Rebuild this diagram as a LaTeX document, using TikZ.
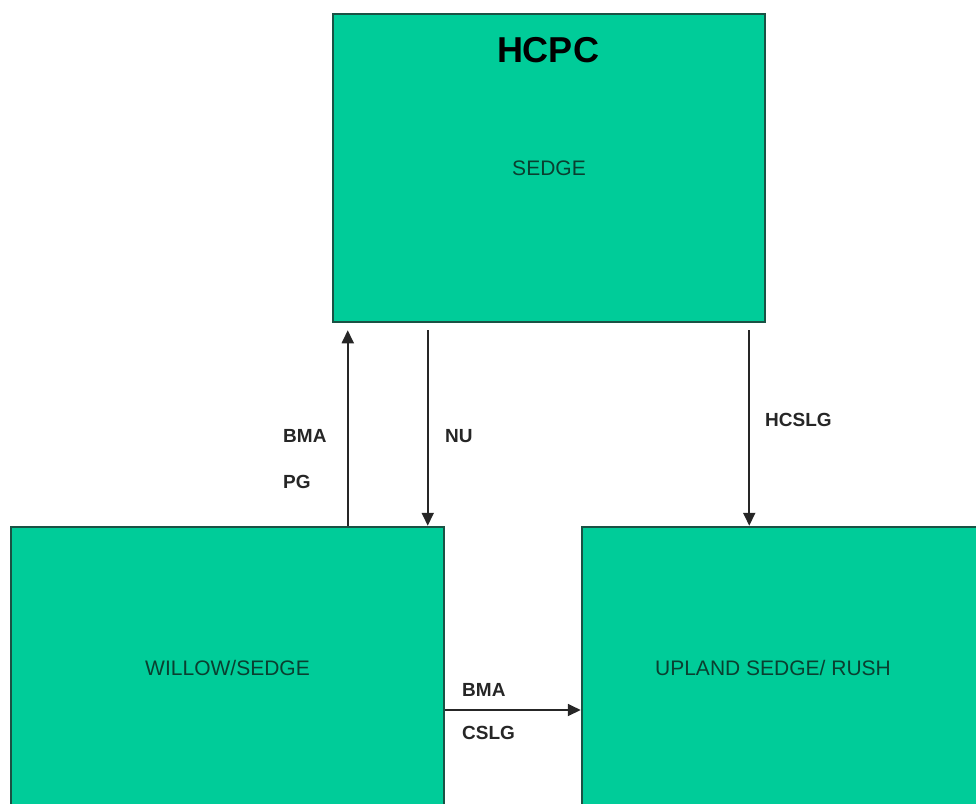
\documentclass[tikz,border=0pt]{standalone}
\usepackage{fontspec}
\setmainfont{Liberation Sans}
\usetikzlibrary{arrows.meta}
\usetikzlibrary{positioning}
\usetikzlibrary{calc}
\definecolor{marsh}{HTML}{00CC99}
\definecolor{rim}{HTML}{1A5244}
\definecolor{inktext}{HTML}{0A3F30}
\definecolor{flowgray}{HTML}{262626}
\tikzset{
    community/.style={draw=rim, line width=2.5pt, fill=marsh, inner sep=0pt},
    boxtext/.style={text=inktext, font=\fontsize{21}{25}\selectfont},
    titletext/.style={text=black, font=\bfseries\fontsize{36}{40}\selectfont},
    flow/.style={draw=flowgray, line width=1.8pt, -{Triangle[length=13pt,width=12pt]}},
    flowlabel/.style={anchor=west, inner sep=0pt, text=flowgray, font=\bfseries\fontsize{19}{23}\selectfont},
}

\begin{document}
\begin{tikzpicture}[x=1pt, y=-1pt]
\useasboundingbox (0,0) rectangle (976,803);
\clip (0,0) rectangle (976,803);
% communities
\node[community, minimum width=432pt, minimum height=308pt] (sedge) at (549,168) {};
\node[community, minimum width=433pt, minimum height=282pt] (willow) at (227.5,668) {};
\node[community, minimum width=420pt, minimum height=282pt] (upland) at (792,668) {};
\node[titletext] (hcpc) at (548,50) {HCPC};
\node[boxtext] (sedgetext) at (sedge.center) {SEDGE};
\node[boxtext] (willowtext) at (willow.center) {WILLOW/SEDGE};
\node[boxtext] (uplandtext) at (773,668) {UPLAND SEDGE/ RUSH};
% arrow ends
\coordinate (upfoot) at ([xshift=16pt]sedge.south west |- willow.north);
\coordinate (uptip) at ([xshift=16pt,yshift=-7pt]sedge.south west);
\coordinate (nutop) at ([xshift=96pt,yshift=-7pt]sedge.south west);
\coordinate (hctop) at ([xshift=-17pt,yshift=-7pt]sedge.south east);
\coordinate (cstail) at ([yshift=-42pt]willow.east);
\draw[flow] (upfoot) -- (uptip);
\draw[flow] (nutop) -- (nutop |- willow.north);
\draw[flow] (hctop) -- (hctop |- upland.north);
\draw[flow] (cstail) -- (cstail -| upland.west);
% labels
\node[flowlabel] (bma) at (283,436) {BMA};
\node[flowlabel] (pg) at (283,482) {PG};
\node[flowlabel] (nu) at (445,436) {NU};
\node[flowlabel] (hcslg) at (765,420) {HCSLG};
\node[flowlabel] (bmalow) at (462,690) {BMA};
\node[flowlabel] (cslg) at (462,733) {CSLG};
\end{tikzpicture}
\end{document}
